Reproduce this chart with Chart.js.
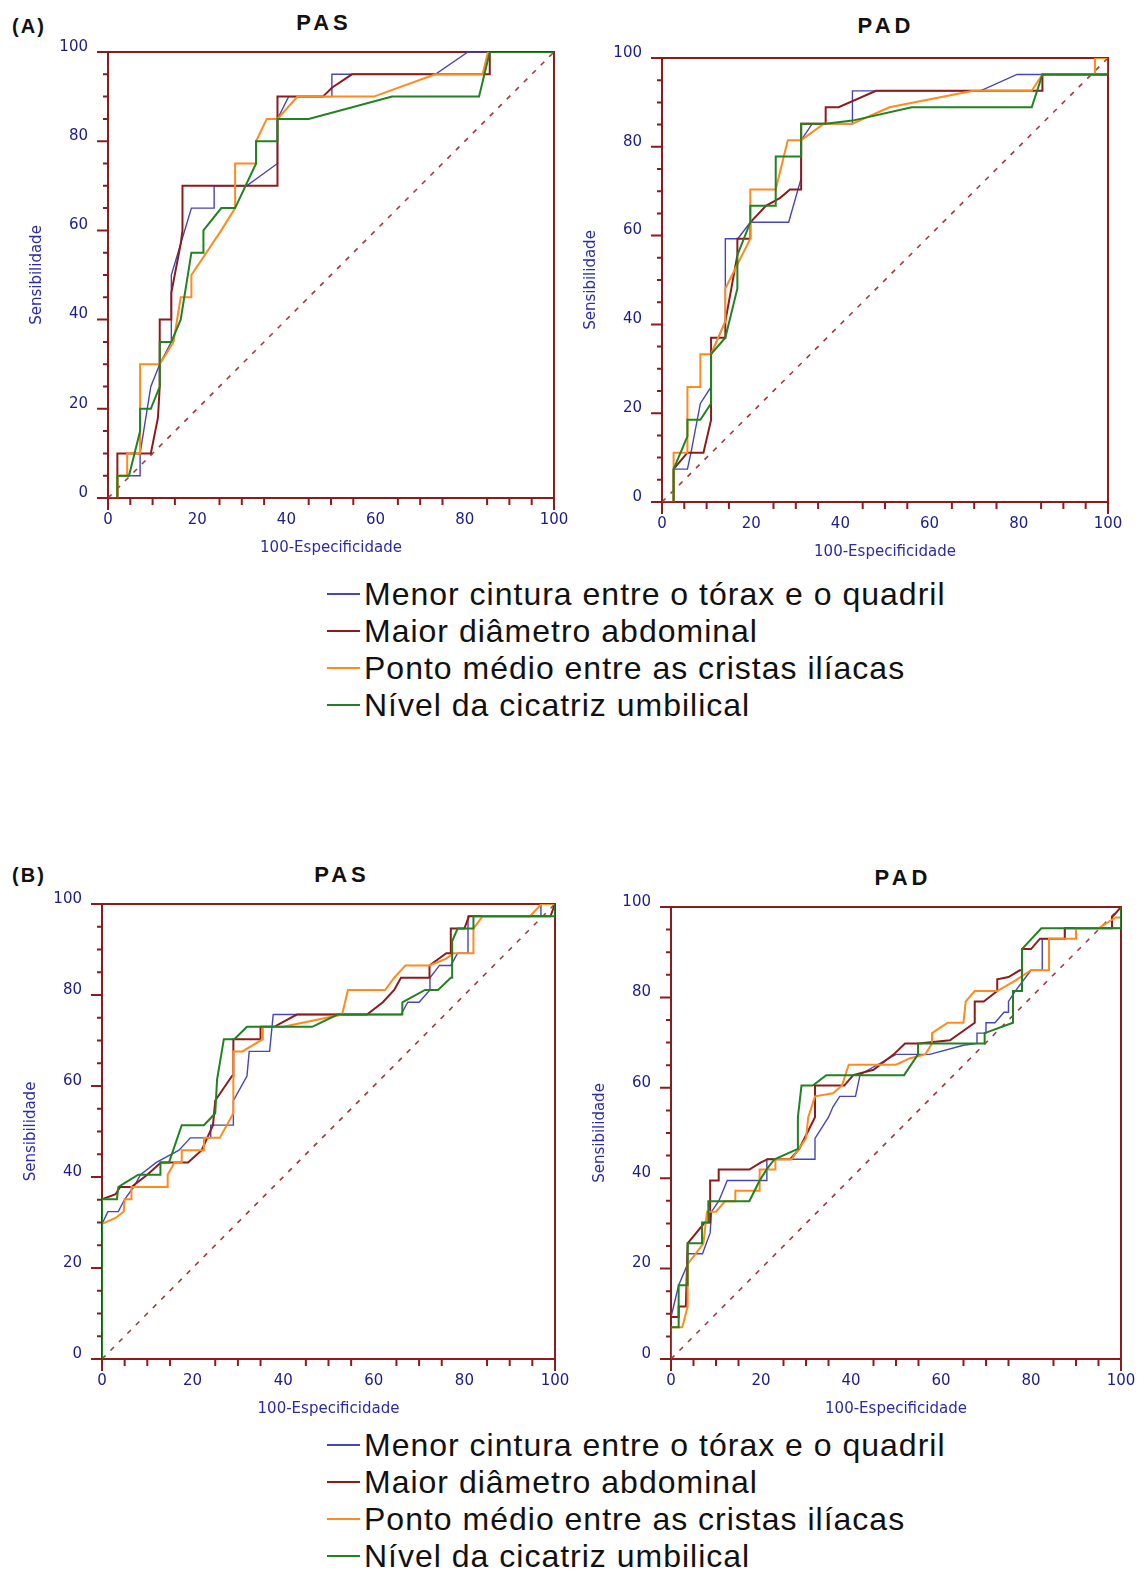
<!DOCTYPE html>
<html>
<head>
<meta charset="utf-8">
<script src="https://cdn.jsdelivr.net/npm/chart.js@4.4.1/dist/chart.umd.min.js"></script>
<style>
  body {
    margin: 0;
    width: 1140px;
    height: 1571px;
    overflow: hidden;
    background: #fff;
    position: relative;
  }
  canvas {
    position: absolute;
  }
  .lbl {
    position: absolute;
    font-family: "Liberation Sans", Arial, sans-serif;
    font-weight: bold;
    color: #111;
    line-height: 1;
    white-space: nowrap;
    transform: translate(-50%, -50%);
  }
  .panel-title {
    font-size: 22px;
    letter-spacing: 4px;
    padding-left: 4px;
  }
  .fig-tag {
    font-size: 20px;
    letter-spacing: 2px;
    padding-left: 2px;
  }
  .legend-row {
    position: absolute;
    height: 37px;
    line-height: 37px;
    font-family: "Liberation Sans", Arial, sans-serif;
    font-size: 32px;
    letter-spacing: 1px;
    color: #111;
    white-space: nowrap;
  }
  .legend-row .swatch {
    position: absolute;
    left: 0;
    top: 17px;
    width: 33px;
    height: 2px;
  }
  .legend-row .txt {
    margin-left: 37px;
  }
</style>
</head>
<body>
  <div class="lbl fig-tag" style="left:28px; top:26px;">(A)</div>
  <div class="lbl panel-title" style="left:322px; top:23px;">PAS</div>
  <div class="lbl panel-title" style="left:884px; top:26px;">PAD</div>
  <div class="lbl fig-tag" style="left:28px; top:875px;">(B)</div>
  <div class="lbl panel-title" style="left:340px; top:875px;">PAS</div>
  <div class="lbl panel-title" style="left:901px; top:878px;">PAD</div>

  <canvas id="aPas"></canvas>
  <canvas id="aPad"></canvas>
  <canvas id="bPas"></canvas>
  <canvas id="bPad"></canvas>

<script>
// axis ticks (0..100 for both axes)
const tickStep = 20;
const minorStep = 5;

const legendLabels = [
  "Menor cintura entre o tórax e o quadril",
  "Maior diâmetro abdominal",
  "Ponto médio entre as cristas ilíacas",
  "Nível da cicatriz umbilical",
];
const seriesColors = ["#4646b4", "#8c1c1c", "#ff8a1e", "#218221"];
const frameColor = "#8c1c1c";
const tickColor = "#1c1c8c";
const titleColor = "#2b2ba6";

const diagonal = [[0, 0], [100, 100]];

// (A) PAS  -- [100-especificidade, sensibilidade]
const aPasMenor = [[0,0],[2.1,0],[2.1,5],[7.2,5],[7.2,10],[9.6,25],[11.6,30],[14.2,35],[14.2,50],[16.3,57],[18.7,65],[23.8,65],[23.8,70],[31.1,70],[38,75],[38,85],[40.5,90],[50.2,90],[50.2,95],[73.4,95],[80.7,100],[100,100]];
const aPasMaior = [[0,0],[2.1,0],[2.1,10],[9.6,10],[11.2,18],[11.6,25],[11.6,40],[14.2,40],[14.2,46],[16.3,57],[16.7,60],[16.7,70],[38,70],[38,90],[42.5,90],[48.2,90],[50.2,92],[54.7,95],[85.6,95],[85.6,100],[100,100]];
const aPasPonto = [[0,0],[2.1,0],[2.1,5],[4.3,5],[4.3,10],[7.2,10],[7.2,30],[11.6,30],[14.7,35],[16.3,45],[18.7,45],[18.7,50],[25.4,60],[28.5,65],[28.5,75],[33.2,75],[33.2,80],[35.6,85],[38,85],[42.5,90],[59.6,90],[73.4,95],[84,95],[85.2,100],[100,100]];
const aPasNivel = [[0,0],[2.1,0],[2.1,5],[4.7,5],[7.2,15],[7.2,20],[9.6,20],[11.6,25],[11.6,35],[14.2,35],[16.3,40],[18.7,55],[21.4,55],[21.4,60],[25.4,65],[28.5,65],[33.2,75],[33.2,80],[38,80],[38,85],[45,85],[63.7,90],[83.2,90],[85.6,100],[100,100]];

// (A) PAD
const aPadMenor = [[0,0],[2.6,0],[2.6,7.4],[5.7,7.4],[6.5,11.1],[8.6,22.2],[11,25.9],[11,33.3],[14.2,40.7],[14.2,59.3],[17,59.3],[19.8,63],[28.4,63],[31.2,72.9],[31.2,81.5],[33.7,85.2],[42.7,85.2],[42.7,92.6],[71.4,92.6],[79.6,96.3],[85.3,96.3],[100,96.3],[100,100]];
const aPadMaior = [[0,0],[2.6,0],[2.6,7.4],[5.7,11.1],[9.3,11.1],[11,18.5],[11,37],[14.2,37],[14.2,40.7],[16.9,55.6],[16.9,59.3],[19.8,59.3],[19.8,63],[23.3,66.7],[26.5,68.5],[28.7,70.4],[31.2,70.4],[31.2,85.2],[36.7,85.2],[36.7,88.9],[39.6,88.9],[48,92.6],[85.3,92.6],[85.3,96.3],[100,96.3],[100,100]];
const aPadPonto = [[0,0],[2.6,0],[2.6,11.1],[5.7,11.1],[5.7,25.9],[8.6,25.9],[8.6,33.3],[11,33.3],[14.2,40.7],[14.2,48.1],[19.8,59.3],[19.8,70.4],[25.5,70.4],[28.2,81.5],[31.2,81.5],[36.3,85.2],[42.7,85.2],[51,88.9],[69.8,92.6],[82.9,92.6],[85.3,96.3],[97.1,96.3],[97.1,100],[100,100]];
const aPadNivel = [[0,0],[2.6,0],[2.6,7.4],[5.7,14.8],[5.7,18.5],[8.6,18.5],[11,22.2],[11,33.3],[14.2,37],[16.9,48.1],[16.9,55.6],[19.8,63],[19.8,66.7],[25.5,66.7],[25.5,77.8],[31.2,77.8],[31.2,85.2],[36.7,85.2],[42.7,85.9],[56,88.9],[82.9,88.9],[85.3,96.3],[100,96.3],[100,100]];

// (B) PAS
const bPasMenor = [[0,0],[0,29.7],[1.3,32.4],[3.6,32.4],[5,35.1],[7,37.8],[8.5,40.5],[12,43.2],[17,45.9],[19.5,48.6],[24,48.6],[24,51.4],[29,51.4],[29,56.8],[32,62.2],[32.5,67.6],[37,67.6],[37.8,75.7],[43,75.7],[66,75.7],[67.5,78.4],[70,78.4],[72.4,81.1],[72.4,83.8],[74.5,86.5],[77,86.5],[78.5,89.2],[80.8,89.2],[80.8,97.3],[96.9,97.3],[96.9,100],[100,100]];
const bPasMaior = [[0,0],[0,35.1],[3,36.2],[4,37.8],[6.5,37.8],[10,40.5],[13,43.2],[19,43.2],[22,45.9],[24.5,51.4],[25,56.8],[28.7,62.2],[29,62.2],[29,70.3],[35,70.3],[35,73],[38,73],[43,75.7],[58.5,75.7],[62,78.4],[64.5,81.1],[66,83.8],[72.3,83.8],[72.3,86.5],[76,89.2],[77,89.2],[77,94.6],[80,94.6],[81,97.3],[99,97.3],[100,100]];
const bPasPonto = [[0,0],[0,29.7],[3,31],[4.8,32.4],[5,35.1],[6.5,35.1],[6.5,37.8],[14.5,37.8],[14.5,40.5],[16,43.2],[17.6,43.2],[17.6,45.9],[22.5,45.9],[22.5,48.6],[26,48.6],[29,54],[29,67.6],[31,67.6],[35.5,70.3],[35.5,73],[40,73],[53,75.7],[54.3,81.1],[62.5,81.1],[64.5,83.8],[67,86.5],[72.3,86.5],[76,88],[77.6,89.2],[82,89.2],[82,94.6],[84,97.3],[94.5,97.3],[97,100],[100,100]];
const bPasNivel = [[0,0],[0,35.1],[3.3,35.1],[3.6,37.8],[5.5,39],[8,40.5],[12.9,40.5],[12.9,43.2],[14.8,43.2],[17.6,51.4],[22.5,51.4],[25,54],[25.4,61.4],[26.9,70.3],[29.2,70.3],[32,73],[46.4,73],[52,75.7],[66.3,75.7],[66.3,78.4],[71.3,81.1],[74.2,81.1],[77,83.8],[77.3,83.8],[77.3,91.8],[78.5,94.6],[82,94.6],[82,97.3],[100,97.3],[100,100]];

// (B) PAD
const bPadMenor = [[0,0],[0,9.3],[1.7,16.3],[3.7,21],[3.7,23.3],[7,23.3],[8.7,27.9],[9,32.6],[10.6,34.9],[12.5,39.5],[21.3,39.5],[21.3,44.2],[32,44.2],[32,48.8],[35,53.5],[36,55.8],[37.5,58.1],[41,58.1],[42,62.8],[43,63.5],[50,67.4],[57.5,67.4],[65,69.4],[68,69.8],[68,72.1],[70,72.1],[70,74.4],[72,74.4],[74,76.7],[75,76.7],[75,79.1],[76.5,81.4],[80,86],[82.5,86],[82.5,93],[87.5,93],[87.5,95.3],[100,95.3],[100,100]];
const bPadMaior = [[0,0],[0,9.3],[1.7,9.3],[1.7,11.6],[3.3,11.6],[3.7,25.6],[7.5,30.2],[8.7,30.2],[8.7,39.5],[10.6,39.5],[10.6,41.9],[17.4,41.9],[20,43.5],[21.5,44.2],[26.5,44.2],[28.5,46.5],[32,53.5],[32,60.5],[38.5,60.5],[40.5,62.8],[45,64],[49.5,67.4],[52,69.8],[55,69.8],[62,70.5],[67.5,74.4],[67.5,79.1],[69.5,79.1],[72.5,81.4],[72.5,84],[75,84.5],[77.5,86],[78,86],[78,90.7],[80,90.7],[82,93],[87.5,93],[87.5,95.3],[98,95.3],[98,97.7],[100,100]];
const bPadPonto = [[0,0],[0,7],[2.5,7],[3.7,11.6],[3.7,21],[5.5,23.3],[7.2,25.6],[8,32.6],[10,32.6],[12,34.9],[14.3,34.9],[14.3,37.2],[19.7,37.2],[19.7,41.9],[23.2,41.9],[23.2,44.2],[26.8,44.2],[30,48.8],[30.5,53.5],[32,58.1],[36,58.8],[38,60.5],[39.5,65.1],[50,65.1],[53,66.5],[56.5,67.4],[58,69.8],[58,72.1],[61.5,74.4],[65,74.4],[65.5,79.1],[67.5,81.4],[72.5,81.4],[76.5,83.7],[80,86],[84,86],[84,93],[90,93],[90,95.3],[95,95.3],[98.8,97.7],[100,97.7],[100,100]];
const bPadNivel = [[0,0],[0,7],[1.7,7],[1.7,16.3],[3.7,16.3],[3.7,25.6],[6.9,25.6],[6.9,30.2],[8.3,30.2],[8.3,34.9],[17.4,34.9],[19.7,39.5],[21.3,42],[23,44.2],[28.2,46.5],[28.2,53.5],[29,60.5],[31.5,60.5],[34.5,62.8],[51.8,62.8],[54.9,67.4],[54.9,69.8],[69.7,69.8],[69.7,72.1],[76,74.4],[76,81.4],[78,81.4],[78,90.7],[82.3,95.3],[100,95.3],[100,100]];

const panels = [
  { id: "aPas", box: { x: 108, y: 52, w: 446, h: 446 }, series: [aPasMenor, aPasMaior, aPasPonto, aPasNivel] },
  { id: "aPad", box: { x: 662, y: 58, w: 446, h: 444 }, series: [aPadMenor, aPadMaior, aPadPonto, aPadNivel] },
  { id: "bPas", box: { x: 102, y: 904, w: 453, h: 455 }, series: [bPasMenor, bPasMaior, bPasPonto, bPasNivel] },
  { id: "bPad", box: { x: 671, y: 907, w: 450, h: 452 }, series: [bPadMenor, bPadMaior, bPadPonto, bPadNivel] },
];
const legendTops = [594, 1445];

function toPoints(pairs) {
  return pairs.map((p) => ({ x: p[0], y: p[1] }));
}

// Frame around the plot plus the small tick marks every 5 units
const frameTicks = {
  id: "frameTicks",
  beforeDatasetsDraw(chart) {
    const { ctx, chartArea: a, scales } = chart;
    ctx.save();
    ctx.strokeStyle = frameColor;
    ctx.lineWidth = 2;
    ctx.strokeRect(a.left, a.top, a.right - a.left, a.bottom - a.top);
    ctx.beginPath();
    for (let v = 0; v <= 100; v += minorStep) {
      const major = v % tickStep === 0;
      const py = scales.y.getPixelForValue(v);
      ctx.moveTo(a.left, py);
      ctx.lineTo(a.left - (major ? 11 : 5), py);
      if (major && v !== 0 && v !== 100) continue;
      const px = scales.x.getPixelForValue(v);
      ctx.moveTo(px, a.bottom);
      ctx.lineTo(px, a.bottom + (major ? 12 : 7));
    }
    ctx.stroke();
    ctx.restore();
  },
};

function buildChart(panel) {
  const canvas = document.getElementById(panel.id);
  canvas.width = panel.box.w + 120;
  canvas.height = panel.box.h + 90;

  // last series on top: dataset 0 is drawn last
  const datasets = [];
  for (let i = panel.series.length - 1; i >= 0; i--) {
    datasets.push({
      label: legendLabels[i],
      data: toPoints(panel.series[i]),
      borderColor: seriesColors[i],
      borderWidth: i === 0 ? 1.4 : 2,
    });
  }
  datasets.push({
    label: "diagonal",
    data: toPoints(diagonal),
    borderColor: "#a33a3a",
    borderWidth: 1.6,
    borderDash: [5, 7],
  });

  const tickFont = { family: "DejaVu Sans", size: 15 };
  const titleFont = { family: "DejaVu Sans", size: 15 };

  const chart = new Chart(canvas, {
    type: "line",
    data: { datasets: datasets },
    options: {
      responsive: false,
      maintainAspectRatio: false,
      animation: false,
      events: [],
      layout: { padding: { top: 8, right: 4 } },
      plugins: { legend: { display: false }, tooltip: { enabled: false } },
      elements: { point: { radius: 0 }, line: { tension: 0 } },
      scales: {
        x: {
          type: "linear",
          min: 0,
          max: 100,
          grid: { display: false, drawTicks: false },
          border: { display: false },
          ticks: { stepSize: tickStep, padding: 13, maxRotation: 0, color: tickColor, font: tickFont },
          title: { display: true, text: "100-Especificidade", color: titleColor, font: titleFont, padding: 0 },
          afterFit(scale) {
            scale.height = 59;
          },
        },
        y: {
          type: "linear",
          min: 0,
          max: 100,
          grid: { display: false, drawTicks: false },
          border: { display: false },
          ticks: { stepSize: tickStep, padding: 20, labelOffset: -5, color: tickColor, font: tickFont },
          title: { display: true, text: "Sensibilidade", color: titleColor, font: titleFont, padding: 0 },
          afterFit(scale) {
            scale.width = 80;
          },
        },
      },
    },
    plugins: [frameTicks],
  });

  // size the canvas so the plot area lands on the target box
  const a = chart.chartArea;
  const w = panel.box.w + chart.width - (a.right - a.left);
  const h = panel.box.h + chart.height - (a.bottom - a.top);
  chart.resize(w, h);
  const b = chart.chartArea;
  canvas.style.left = panel.box.x - b.left + "px";
  canvas.style.top = panel.box.y - b.top + "px";
  return chart;
}

panels.forEach(buildChart);

// Legends
legendTops.forEach((top) => {
  legendLabels.forEach((label, i) => {
    const row = document.createElement("div");
    row.className = "legend-row";
    row.style.left = "327px";
    row.style.top = top + i * 37 - 18 + "px";

    const swatch = document.createElement("span");
    swatch.className = "swatch";
    swatch.style.background = seriesColors[i];
    row.appendChild(swatch);

    const txt = document.createElement("span");
    txt.className = "txt";
    txt.textContent = label;
    row.appendChild(txt);

    document.body.appendChild(row);
  });
});
</script>
</body>
</html>
